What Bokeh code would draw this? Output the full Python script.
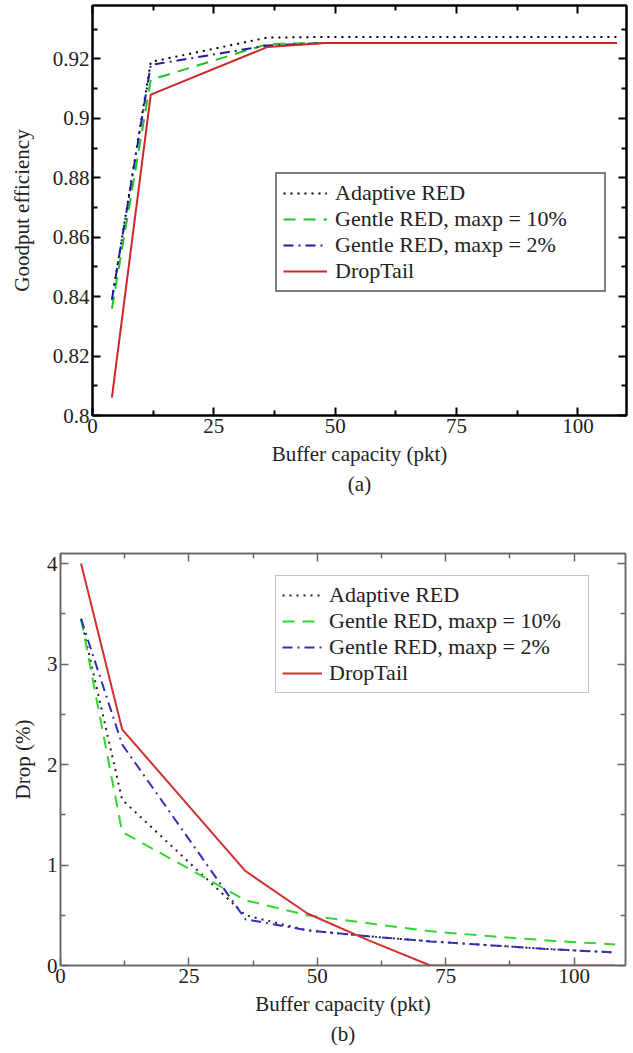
from bokeh.plotting import figure
from bokeh.models import (Legend, LegendItem, LinearAxis, FixedTicker, CustomJSTickFormatter,
                          Title, Range1d)
from bokeh.embed import file_html
from bokeh.resources import INLINE

# ---------------- data ----------------
buffer_pkt = [4, 12, 36, 48, 60, 72, 84, 96, 108]

labels = ["Adaptive RED", "Gentle RED, maxp = 10%", "Gentle RED, maxp = 2%", "DropTail"]

# (a) goodput efficiency
goodput_adaptive = [0.839, 0.919, 0.9272, 0.9274, 0.9274, 0.9274, 0.9274, 0.9274, 0.9274]
goodput_gentle10 = [0.836, 0.913, 0.9250, 0.9254, 0.9254, 0.9254, 0.9254, 0.9254, 0.9254]
goodput_gentle2 = [0.839, 0.918, 0.9245, 0.9254, 0.9254, 0.9254, 0.9254, 0.9254, 0.9254]
goodput_droptail = [0.806, 0.908, 0.9240, 0.9254, 0.9254, 0.9254, 0.9254, 0.9254, 0.9254]

# (b) drop percentage
drop_adaptive = [3.45, 1.65, 0.50, 0.35, 0.29, 0.24, 0.20, 0.16, 0.13]
drop_gentle10 = [3.45, 1.33, 0.65, 0.50, 0.42, 0.34, 0.29, 0.245, 0.21]
drop_gentle2 = [3.45, 2.20, 0.46, 0.35, 0.29, 0.24, 0.20, 0.16, 0.13]
drop_droptail = [4.00, 2.35, 0.94, 0.52, 0.25, 0.00, 0.00, 0.00, 0.00]

x_major = [0, 25, 50, 75, 100]
x_minor = [12.5, 37.5, 62.5, 87.5]
ya_major = [0.80, 0.82, 0.84, 0.86, 0.88, 0.90, 0.92]
ya_minor = [0.81, 0.83, 0.85, 0.87, 0.89, 0.91, 0.93]
yb_major = [0, 1, 2, 3, 4]
yb_minor = [0.5, 1.5, 2.5, 3.5]

FONT = "Liberation Serif"


def style_axis(ax, color, width, label_size, show_labels=True):
    ax.axis_line_color = color
    ax.axis_line_width = width
    ax.major_tick_line_color = color
    ax.minor_tick_line_color = color
    ax.major_tick_line_width = width
    ax.minor_tick_line_width = width
    ax.major_tick_in = 8
    ax.major_tick_out = 0
    ax.minor_tick_in = 5
    ax.minor_tick_out = 0
    ax.major_label_text_font = FONT
    ax.major_label_text_font_size = label_size
    ax.major_label_text_color = "#222222"
    ax.major_label_standoff = 3
    ax.axis_label_text_font = FONT
    ax.axis_label_text_font_size = label_size
    ax.axis_label_text_font_style = "normal"
    ax.axis_label_text_color = "#222222"
    if not show_labels:
        ax.formatter = CustomJSTickFormatter(code="return '';")
        ax.major_label_standoff = 0


def make_panel(width, height, borders, xr, yr, xt, yt, ylabel, caption, series, colors,
               frame_color, frame_width, legend_loc, legend_geom, legend_border,
               ylab_standoff, yfmt=None):
    bl, br, bt, bb = borders
    p = figure(width=width, height=height, x_range=Range1d(*xr), y_range=Range1d(*yr),
               output_backend="svg", toolbar_location=None,
               min_border_left=bl, min_border_right=br, min_border_top=bt, min_border_bottom=bb,
               x_axis_label="Buffer capacity (pkt)", y_axis_label=ylabel)
    p.grid.visible = False
    p.outline_line_color = frame_color
    p.outline_line_width = frame_width
    p.background_fill_color = "white"
    p.border_fill_color = "white"

    p.xaxis.ticker = FixedTicker(ticks=xt[0], minor_ticks=xt[1])
    p.yaxis.ticker = FixedTicker(ticks=yt[0], minor_ticks=yt[1])
    if yfmt is not None:
        p.yaxis.formatter = yfmt
    for ax in p.xaxis + p.yaxis:
        style_axis(ax, frame_color, frame_width, "21px")
    p.yaxis.axis_label_standoff = ylab_standoff
    p.xaxis.axis_label_standoff = 6

    top = LinearAxis(ticker=FixedTicker(ticks=xt[0], minor_ticks=xt[1]))
    right = LinearAxis(ticker=FixedTicker(ticks=yt[0], minor_ticks=yt[1]))
    style_axis(top, frame_color, frame_width, "21px", show_labels=False)
    style_axis(right, frame_color, frame_width, "21px", show_labels=False)
    p.add_layout(top, "above")
    p.add_layout(right, "right")

    dashes = ["2 5", "12 8", "10 5 2 5", "solid"]
    items = []
    for (ys, lab, col, dash) in zip(series, labels, colors, dashes):
        r = p.line(buffer_pkt, ys, line_color=col, line_width=2, line_dash=dash)
        items.append(LegendItem(label=lab, renderers=[r]))

    gw, stand, lw = legend_geom
    leg = Legend(items=items, location=legend_loc)
    leg.label_text_font = FONT
    leg.label_text_font_size = "22px"
    leg.label_text_color = "#222222"
    leg.glyph_width = gw
    leg.glyph_height = 22
    leg.label_height = 22
    leg.label_width = lw
    leg.spacing = 0
    leg.padding = 6
    leg.margin = 0
    leg.label_standoff = stand
    leg.border_line_color = legend_border[0]
    leg.border_line_width = legend_border[1]
    leg.background_fill_color = "white"
    leg.background_fill_alpha = 1.0
    p.add_layout(leg)

    cap = Title(text=caption, align="center", text_font=FONT, text_font_size="21px",
                text_font_style="normal", text_color="#222222", standoff=2)
    p.add_layout(cap, "below")
    return p


fmt_a = CustomJSTickFormatter(code="return String(Math.round(tick*100)/100);")

p1 = make_panel(628, 496, (92, 2, 5, 78), (0, 110), (0.8, 0.938),
                (x_major, x_minor), (ya_major, ya_minor), "Goodput efficiency", "(a)",
                [goodput_adaptive, goodput_gentle10, goodput_gentle2, goodput_droptail],
                ["#000000", "#22c322", "#1c1ca0", "#cc2626"],
                "#000000", 2, (183, 123), (44, 8, 263), ("#000000", 2), 16, yfmt=fmt_a)

p2 = make_panel(628, 555, (60, 3, 57, 86), (0, 110), (0, 4.1),
                (x_major, x_minor), (yb_major, yb_minor), "Drop (%)", "(b)",
                [drop_adaptive, drop_gentle10, drop_gentle2, drop_droptail],
                ["#222222", "#33d633", "#3030b8", "#d03030"],
                "#666666", 1.5, (215, 272), (40, 7, 253), ("#888888", 1.2), 9)

open("out.html", "w").write(file_html([p1, p2], INLINE))
